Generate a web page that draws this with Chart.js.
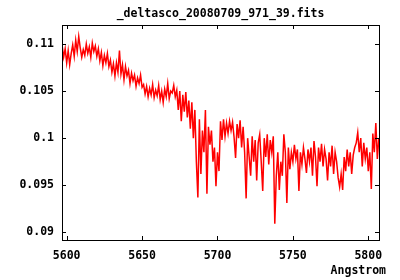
<!DOCTYPE html>
<html>
<head>
<meta charset="utf-8">
<script src="https://cdn.jsdelivr.net/npm/chart.js@4.4.1/dist/chart.umd.min.js"></script>
<style>
  html, body { margin: 0; padding: 0; background: #fff; }
  #wrap { width: 400px; height: 280px; }
</style>
</head>
<body>
<div id="wrap"><canvas id="spec"></canvas></div>
<script>
// spectrum sampled every 1 Angstrom from WAVE_START
const TITLE = '_deltasco_20080709_971_39.fits';
const X_LABEL = 'Angstrom';
const WAVE_START = 5597;
const FLUX = [
  0.1098, 0.1086, 0.1095, 0.1080, 0.1093, 0.1078, 0.1090,               // 5597
  0.1099, 0.1087, 0.1104, 0.1092, 0.1108, 0.1096,                       // 5604
  0.1086, 0.1094, 0.1088,                                               // 5610
  0.1100, 0.1090, 0.1097, 0.1086, 0.1101, 0.1092, 0.1098, 0.1087, 0.1095, // 5613
  0.1082, 0.1091, 0.1077, 0.1088, 0.1080, 0.1090, 0.1076,               // 5622
  0.1083, 0.1070, 0.1079, 0.1066, 0.1080,                               // 5629
  0.1070, 0.1093, 0.1068, 0.1078,                                       // 5634
  0.1062, 0.1076, 0.1066, 0.1072,                                       // 5638
  0.1058, 0.1069, 0.1061, 0.1067, 0.1055, 0.1064, 0.1058, 0.1067, 0.1054, // 5642
  0.1057, 0.1047, 0.1055, 0.1044, 0.1053, 0.1046, 0.1057, 0.1043, 0.1051, // 5651
  0.1045, 0.1056, 0.1041, 0.1050, 0.1038, 0.1052, 0.1044, 0.1058, 0.1042, 0.1050, // 5660
  0.1048, 0.1056, 0.1044, 0.1051,                                       // 5670
  0.1030, 0.1050, 0.1018,                                               // 5674
  0.1046, 0.1028, 0.1049, 0.1022, 0.1040,                               // 5677
  0.1010, 0.1038, 0.1000,                                               // 5682
  0.1030, 0.0975, 0.0937,                                               // 5685
  0.1020, 0.0962, 0.1008, 0.0985,                                       // 5688
  0.1030, 0.0941,                                                       // 5692
  0.1012, 0.0993, 0.1008,                                               // 5694
  0.0975, 0.0990, 0.0949, 0.0985, 0.0965,                               // 5697
  0.1018, 0.0998, 0.1020, 0.1002, 0.1016,                               // 5702
  0.1005, 0.1018, 0.1008, 0.1017, 0.1001,                               // 5707
  0.0979, 0.1015, 0.1000, 0.1019, 0.0990, 0.1012,                       // 5712
  0.0985, 0.0936, 0.1000,                                               // 5718
  0.0980, 0.0960, 0.1002, 0.0975, 0.0998, 0.0955, 0.0995,               // 5721
  0.1004, 0.0975, 0.0944,                                               // 5728
  0.1000, 0.0980, 0.1004, 0.0972, 0.0998, 0.0985,                       // 5731
  0.1002, 0.0909,                                                       // 5737
  0.0960, 0.0985, 0.0945, 0.0975, 0.0960,                               // 5739
  0.1004, 0.0985, 0.0931,                                               // 5744
  0.0990, 0.0967, 0.0985, 0.0975, 0.0993, 0.0978, 0.0988, 0.0944, 0.0985, // 5747
  0.0972, 0.0990, 0.0978, 0.0963, 0.0988,                               // 5756
  0.0975, 0.0990, 0.0960, 0.0997, 0.0980, 0.0949,                       // 5761
  0.0990, 0.0975, 0.0994, 0.0970, 0.0988, 0.0978, 0.0955, 0.0985,       // 5767
  0.0970, 0.0992, 0.0962, 0.0985, 0.0975, 0.0958,                       // 5775
  0.0948, 0.0962, 0.0945,                                               // 5781
  0.0980, 0.0965, 0.0988, 0.0970, 0.0985, 0.0962, 0.0982, 0.0990,       // 5784
  0.0995, 0.1006, 0.0985, 0.1000,                                       // 5792
  0.0970, 0.0995, 0.0978, 0.0990, 0.0965, 0.0985, 0.0946,               // 5796
  0.1005, 0.0985, 0.1016, 0.0978, 0.1000                                // 5803
];
const X_TICKS = [5600, 5650, 5700, 5750, 5800];
const Y_TICKS = [0.09, 0.095, 0.1, 0.105, 0.11];

const FONT = '"DejaVu Sans Mono", "Liberation Mono", monospace';

const points = FLUX.map((f, i) => ({ x: WAVE_START + i, y: f }));

// gnuplot-like frame: box, inward ticks on all sides, title and x label
const framePlugin = {
  id: 'frame',
  afterDatasetsDraw(chart) {
    const { ctx, chartArea: a, scales } = chart;
    ctx.save();
    ctx.strokeStyle = '#000';
    ctx.lineWidth = 1;
    ctx.beginPath();
    X_TICKS.forEach(v => {
      const px = Math.round(scales.x.getPixelForValue(v)) + 0.5;
      ctx.moveTo(px, a.bottom); ctx.lineTo(px, a.bottom - 4);
      ctx.moveTo(px, a.top); ctx.lineTo(px, a.top + 4);
    });
    Y_TICKS.forEach(v => {
      const py = Math.round(scales.y.getPixelForValue(v)) + 0.5;
      ctx.moveTo(a.left, py); ctx.lineTo(a.left + 4, py);
      ctx.moveTo(a.right, py); ctx.lineTo(a.right - 4, py);
    });
    ctx.stroke();
    ctx.strokeRect(Math.round(a.left) + 0.5, Math.round(a.top) + 0.5,
                   Math.round(a.right - a.left), Math.round(a.bottom - a.top));

    ctx.fillStyle = '#000';
    ctx.font = 'bold 11.5px ' + FONT;
    ctx.textAlign = 'center';
    ctx.textBaseline = 'middle';
    ctx.fillText(TITLE, (a.left + a.right) / 2, 14);
    ctx.textAlign = 'right';
    ctx.fillText(X_LABEL, 386, 271);
    ctx.restore();
  }
};

new Chart(document.getElementById('spec'), {
  type: 'line',
  data: {
    datasets: [{
      label: 'flux',
      data: points,
      borderColor: '#ff0000',
      borderWidth: 1.5,
      pointRadius: 0,
      tension: 0,
      fill: false,
    }]
  },
  options: {
    responsive: true,
    maintainAspectRatio: false,
    animation: false,
    layout: { padding: { top: 25, right: 21, left: 0, bottom: 0 } },
    plugins: { legend: { display: false }, tooltip: { enabled: false } },
    scales: {
      x: {
        type: 'linear', min: 5596.9, max: 5807.1,
        afterFit: s => { s.height = 40; },
        afterBuildTicks: s => { s.ticks = X_TICKS.map(v => ({ value: v })); },
        grid: { display: false, drawTicks: false },
        border: { display: false },
        ticks: { color: '#000', padding: 9, font: { family: FONT, size: 11.5, weight: 'bold' },
                 maxRotation: 0, callback: v => String(v) }
      },
      y: {
        min: 0.08918, max: 0.11202,
        afterFit: s => { s.width = 62; },
        afterBuildTicks: s => { s.ticks = Y_TICKS.map(v => ({ value: v })); },
        grid: { display: false, drawTicks: false },
        border: { display: false },
        ticks: { color: '#000', padding: 8, font: { family: FONT, size: 11.5, weight: 'bold' },
                 callback: v => String(v) }
      }
    }
  },
  plugins: [framePlugin]
});
</script>
</body>
</html>
